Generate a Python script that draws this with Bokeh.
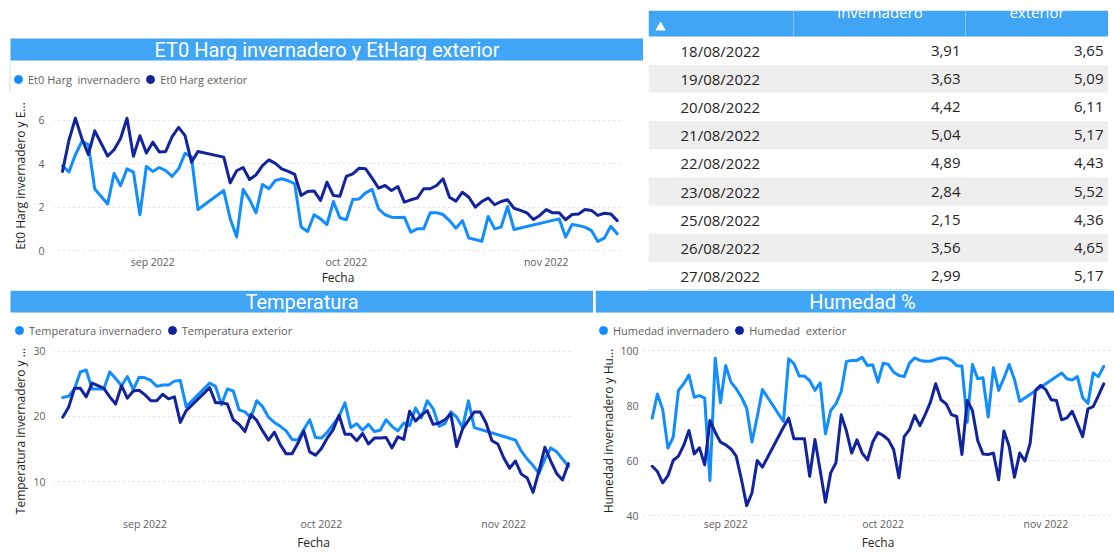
import numpy as np
import pandas as pd
from bokeh.plotting import figure
from bokeh.layouts import row, column
from bokeh.models import (ColumnDataSource, Range1d, FixedTicker, Legend, LegendItem,
                          Label, Spacer)
from bokeh.embed import file_html
from bokeh.resources import INLINE
from bokeh.core.properties import value

N = None
fechas = pd.date_range("2022-08-18", "2022-11-12", freq="D")

eto_inv = [3.91, 3.63, 4.42, 5.04, 4.89, 2.84, N, 2.15, 3.56, 2.99,
           3.77, 3.62, 1.65, 3.88, 3.65, 3.83, 3.69, 3.42, 3.77, 4.49,
           4.31, 1.89, N, N, N, 2.77, 1.46, 0.62, 2.82, 2.35,
           1.74, 3.05, 2.85, 3.23, 3.31, 3.22, 3.08, 1.08, 0.88, 1.65,
           1.46, 1.20, 2.26, 1.51, 1.42, 2.35, 2.38, 2.66, 2.82, 1.92,
           1.65, 1.54, 1.52, 1.54, 0.85, 1.00, 1.00, 1.74, 1.74, 1.66,
           1.38, 1.03, 1.38, 0.57, 0.51, 0.42, 1.57, 1.00, 1.08, 2.03,
           0.97, N, N, N, N, N, N, 1.46, 0.62, 1.20,
           1.15, 1.08, 0.92, 0.42, 0.57, 1.12, 0.77]
eto_ext = [3.65, 5.09, 6.11, 5.17, 4.43, 5.52, N, 4.36, 4.65, 5.17,
           6.10, 4.35, 5.30, 4.50, 5.00, 4.55, 4.57, 5.26, 5.68, 5.30,
           4.08, 4.57, N, N, N, 4.31, 3.12, 3.68, 3.83, 3.28,
           3.49, 3.92, 4.18, 4.02, 3.77, 3.65, 3.51, 2.54, 2.72, 2.75,
           2.31, 3.15, 2.54, 2.50, 3.42, 3.54, 3.80, 3.77, 3.34, 2.88,
           3.00, 2.77, 2.95, 2.23, 2.34, 2.42, 2.85, 2.85, 3.00, 3.31,
           2.46, 2.28, 2.69, 2.46, 2.00, 2.26, 2.42, 2.11, 2.26, 2.34,
           1.95, 1.85, 1.74, 1.43, 1.62, 1.89, 1.74, 1.74, 1.42, 1.66,
           1.69, 1.89, 1.85, 1.62, 1.72, 1.69, 1.38]

temp_inv = [22.9, 23.1, 24.2, 26.8, 27.1, 24.2, 24.2, 24.2, 26.8, 25.8,
            24.7, 26.1, 24.1, 26.0, 25.9, 25.5, 24.6, 24.8, 24.8, 25.4,
            25.5, 21.5, N, N, N, 25.1, 24.6, 21.8, 24.2, 23.9,
            21.0, 20.7, 19.8, 22.4, 21.5, 19.9, 19.1, 18.5, 17.8, 16.5,
            16.4, 18.0, 19.5, 16.8, 16.7, 17.6, 18.8, 20.0, 22.1, 18.3,
            18.9, 17.9, 18.8, 17.7, 17.9, 19.5, 18.5, 17.8, 19.0, 18.6,
            21.3, 19.8, 22.4, 21.2, 18.5, 18.9, 20.7, 19.9, 18.3, 22.4,
            18.3, N, N, N, N, N, N, 16.4, 14.7, 13.5,
            12.5, 11.3, 13.5, 15.2, 14.6, 13.5, 12.4]
temp_ext = [19.9, 21.4, 24.3, 24.3, 23.0, 25.1, 24.7, 24.3, 23.0, 21.9,
            24.7, 22.8, 23.9, 24.0, 23.3, 22.4, 22.4, 23.4, 22.7, 23.0,
            19.1, 20.9, N, N, N, 24.4, 22.1, 22.1, 21.9, 19.5,
            18.8, 17.7, 20.3, 19.4, 17.8, 16.4, 17.6, 15.7, 14.3, 14.3,
            15.9, 17.8, 14.6, 14.1, 15.1, 16.7, 18.0, 20.2, 17.3, 17.3,
            16.3, 17.4, 15.8, 16.7, 16.7, 16.8, 15.2, 16.9, 16.5, 20.8,
            19.3, 20.2, 20.9, 18.8, 19.0, 19.5, 20.4, 15.4, 18.1, 19.4,
            20.7, 20.7, 19.0, 16.3, 15.8, 13.7, 12.1, 13.2, 11.2, 10.6,
            8.4, 11.7, 15.3, 13.2, 11.3, 10.3, 12.8]

hum_inv = [75.4, 84.2, 78.5, 64.5, 68.5, 85.5, 87.9, 91.1, 83.0, 83.6,
           82.7, 52.7, 97.2, 81.0, 94.5, 88.5, 86.1, 83.0, 79.0, 66.7,
           75.8, 85.8, N, N, N, 74.2, 97.0, 95.2, 90.7, 90.7,
           89.1, 85.5, 88.2, 69.7, 78.2, 80.6, 85.1, 96.0, 96.4, 96.4,
           97.5, 94.5, 94.8, 88.5, 95.4, 94.9, 92.1, 90.9, 90.5, 95.4,
           97.3, 96.4, 96.1, 96.1, 96.8, 97.3, 97.3, 96.4, 94.5, 94.4,
           73.9, 94.9, 89.7, 90.1, 75.8, 93.7, 85.5, 90.0, 94.9, 89.5,
           81.5, N, N, N, N, N, N, N, 91.8, 89.7,
           89.3, 90.5, 82.8, 80.8, 91.8, 90.5, 94.2]
hum_ext = [57.9, 56.0, 51.9, 54.5, 60.0, 61.6, 65.5, 70.9, 62.4, 64.6,
           58.4, 74.5, 70.3, 66.7, 65.7, 64.2, 61.6, 53.1, 43.6, 48.2,
           60.0, 57.6, N, N, N, 72.1, 75.4, 67.9, 67.9, 67.9,
           54.3, 67.6, 56.4, 44.8, 55.5, 59.2, 76.6, 70.7, 62.7, 67.5,
           62.7, 60.2, 66.7, 70.2, 69.1, 67.5, 63.9, 53.7, 68.7, 71.2,
           76.4, 72.7, 76.7, 81.2, 87.9, 82.1, 80.6, 76.7, 76.0, 62.2,
           81.8, 78.2, 67.3, 62.4, 62.2, 62.7, 53.0, 70.7, 65.1, 53.9,
           62.7, 59.8, 66.3, 85.5, 87.3, 85.7, 82.1, 81.8, 74.8, 75.5,
           77.9, 73.3, 68.7, 78.8, 79.6, 83.6, 87.9]

meses = ["sep 2022", "oct 2022", "nov 2022"]
meses_fechas = ["2022-09-01", "2022-10-01", "2022-11-01"]

tabla_fechas = ["18/08/2022", "19/08/2022", "20/08/2022", "21/08/2022", "22/08/2022",
                "23/08/2022", "25/08/2022", "26/08/2022", "27/08/2022"]
tabla_inv = [3.91, 3.63, 4.42, 5.04, 4.89, 2.84, 2.15, 3.56, 2.99]
tabla_ext = [3.65, 5.09, 6.11, 5.17, 4.43, 5.52, 4.36, 4.65, 5.17]
tabla_cols = ["invernadero", "exterior"]

BAR = "#41A5F5"
C_INV = "#118DFF"
C_EXT = "#12239E"
TXT = "#252423"
TICK = "#605E5C"
GRID = "#C8C6C4"
EDGE = "#C9E2F7"
FONT = "Open Sans"
DAY = 86400000.0
NAN = float("nan")


def ms(s):
    return pd.Timestamp(s).value / 1e6


T0 = ms("2022-08-18")


def serie(vals):
    xs = [f for f, v in zip(fechas, vals) if v is not None]
    ys = [v for v in vals if v is not None]
    return ColumnDataSource(dict(fecha=np.array(xs, dtype="datetime64[ms]"), valor=ys))


def base_fig(w, h, **kw):
    return figure(width=w, height=h, toolbar_location=None, output_backend="svg",
                  title=None, outline_line_color=None, background_fill_color="white",
                  border_fill_color="white", frame_align=False, **kw)


def header(w, h, band, title, tx, ty, names, loc, edge=None):
    """Blue title band plus the legend row above a chart (coordinates in px)."""
    p = base_fig(w, h, x_range=Range1d(0, w), y_range=Range1d(0, h),
                 x_axis_location=None, y_axis_location=None, min_border=0)
    p.grid.visible = False
    l, r, b, t = band
    if edge is not None:
        p.segment(x0=[edge], x1=[edge], y0=[0], y1=[b], line_color=EDGE, line_width=1)
    p.quad(left=[l], right=[r], bottom=[b], top=[t], fill_color=BAR, line_color=None)
    p.add_layout(Label(x=tx, y=ty, text=title, text_align="center",
                       text_baseline="middle", text_color="white",
                       text_font="Roboto", text_font_size="20px"))
    items = []
    for name, c in zip(names, [C_INV, C_EXT]):
        dot = p.scatter(x=[NAN], y=[NAN], marker="circle", size=8, fill_color=c, line_color=c)
        items.append(LegendItem(label=name, renderers=[dot]))
    p.add_layout(Legend(items=items, location=loc, orientation="horizontal",
                        glyph_width=20, glyph_height=20, label_standoff=-3, spacing=0,
                        padding=0, margin=0, border_line_color=None,
                        background_fill_alpha=0, label_text_font=FONT,
                        label_text_font_size="11px", label_text_color=TICK,
                        label_height=20))
    return p


def line_chart(w, h, bl, br, bt, bb, d0, d1, yr, yticks, ylabel, vals, ystand, ylstand,
               xstand=0, xlstand=0):
    p = base_fig(w, h, x_axis_type="datetime",
                 x_range=Range1d(T0 + d0 * DAY, T0 + d1 * DAY), y_range=Range1d(*yr),
                 min_border_left=bl, min_border_right=br, min_border_top=bt,
                 min_border_bottom=bb)
    for v, c in zip(vals, [C_INV, C_EXT]):
        p.line("fecha", "valor", source=serie(v), line_color=c, line_width=3,
               line_join="round", line_cap="round")
    ticks = [ms(m) for m in meses_fechas]
    p.xaxis.ticker = FixedTicker(ticks=ticks)
    p.xaxis.major_label_overrides = {t: m for t, m in zip(ticks, meses)}
    p.xaxis.axis_label = "Fecha"
    p.yaxis.ticker = FixedTicker(ticks=yticks)
    p.yaxis.axis_label = ylabel
    for ax in (p.xaxis, p.yaxis):
        ax.axis_line_color = None
        ax.major_tick_line_color = None
        ax.minor_tick_line_color = None
        ax.major_tick_out = 0
        ax.major_tick_in = 0
        ax.minor_tick_out = 0
        ax.minor_tick_in = 0
        ax.major_label_text_font = FONT
        ax.major_label_text_font_size = "10.5px"
        ax.major_label_text_color = TICK
        ax.axis_label_text_font = FONT
        ax.axis_label_text_font_size = "12px"
        ax.axis_label_text_font_style = "normal"
        ax.axis_label_text_color = TXT
    p.yaxis.major_label_standoff = ystand
    p.yaxis.axis_label_standoff = ylstand
    p.xaxis.major_label_standoff = xstand
    p.xaxis.axis_label_standoff = xlstand
    p.xgrid.visible = False
    p.ygrid.grid_line_color = GRID
    p.ygrid.grid_line_dash = "1 4"
    p.ygrid.grid_line_width = 1.2
    return p


def fmt(v):
    return f"{v:.2f}".replace(".", ",")


def tabla():
    p = base_fig(460, 290, x_range=Range1d(0, 460), y_range=Range1d(8.51, -1.42),
                 x_axis_location=None, y_axis_location=None,
                 min_border_left=0, min_border_right=0, min_border_top=10,
                 min_border_bottom=0)
    p.grid.visible = False
    idx = list(range(len(tabla_fechas)))
    src = ColumnDataSource(dict(
        y=idx, fecha=tabla_fechas, inv=[fmt(v) for v in tabla_inv],
        ext=[fmt(v) for v in tabla_ext],
        fill=["white" if i % 2 == 0 else "#EEEEEE" for i in idx]))
    p.hbar(y="y", height=1, left=0, right=460, fill_color="fill", line_color=None, source=src)
    p.hbar(y=[-1.0], height=1.0, left=0, right=460, fill_color=BAR, line_color=None)
    p.segment(x0=[145, 317], x1=[145, 317], y0=[-1.5, -1.5], y1=[-0.5, -0.5],
              line_color="#8CC6F9", line_width=1)
    p.scatter(x=[12], y=[-0.82], marker="triangle", size=9, fill_color="white", line_color="white")
    p.text(x=[231.5, 388.5], y=[-1.38, -1.38], text=tabla_cols, text_align="center",
           text_baseline="middle", text_color="white", text_font=value(FONT),
           text_font_size="15px")
    common = dict(source=src, text_baseline="middle", text_color=TXT,
                  text_font=value(FONT), text_font_size="15px")
    p.text(x=32, y="y", text="fecha", text_align="left", **common)
    p.text(x=312, y="y", text="inv", text_align="right", **common)
    p.text(x=455, y="y", text="ext", text_align="right", **common)
    p.segment(x0=[0], x1=[460], y0=[8.47], y1=[8.47], line_color=EDGE, line_width=1)
    return p


# --- top-left panel (page x 0-643, y 0-290)
eto_head = header(643, 92, (10, 643, 32, 54), "ET0 Harg invernadero y EtHarg exterior",
                  326.5, 43, ["Et0 Harg  invernadero", "Et0 Harg exterior"], (8, 3), edge=9.5)
eto = line_chart(643, 198, 53, 21, 8, 39, -1.395, 86.82, (-0.046, 6.923), [0, 2, 4, 6],
                 "Et0 Harg invernadero y E...", [eto_inv, eto_ext], 9, 6, 3, -3)

# --- bottom-left panel (page x 0-593, y 290-555)
temp_head = header(593, 51, (10, 593, 29, 51), "Temperatura", 301.5, 40,
                   ["Temperatura invernadero", "Temperatura exterior"], (9, 1))
temp = line_chart(593, 214, 53, 20, 4, 39, -1.565, 86.87, (4.73, 30.84), [10, 20, 30],
                  "Temperatura invernadero y ...", [temp_inv, temp_ext], 8, 1)

# --- bottom-right panel (page x 595-1114, y 290-555)
hum_head = header(519, 51, (0, 519, 29, 51), "Humedad %", 267, 40,
                  ["Humedad invernadero", "Humedad  exterior"], (-2, 1))
hum = line_chart(519, 214, 48, 2, 4, 39, -1.657, 87.68, (39.64, 101.82), [40, 60, 80, 100],
                 "Humedad invernadero y Hu...", [hum_inv, hum_ext], 5, 0)

top = row(column(eto_head, eto), Spacer(width=5, height=290), tabla())
bottom = row(column(temp_head, temp), Spacer(width=2, height=265), column(hum_head, hum))
layout = column(top, bottom)

open("out.html", "w").write(file_html(layout, INLINE))
